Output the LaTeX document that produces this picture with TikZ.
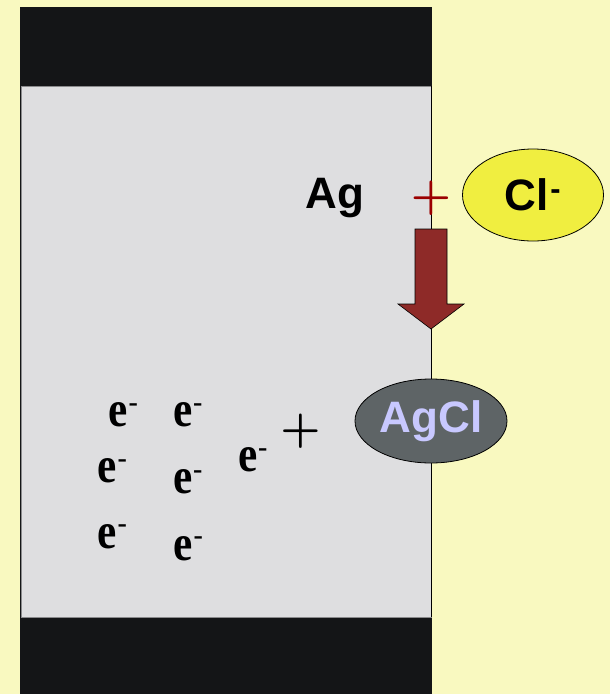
\documentclass[tikz,border=0pt]{standalone}
\usepackage{graphicx}
\usepackage{fontspec}
\setmainfont{Liberation Serif}
\setsansfont{Liberation Sans}
\usetikzlibrary{shapes.geometric}
\definecolor{bgyellow}{HTML}{F9F9C0}
\definecolor{blackband}{HTML}{141517}
\definecolor{panelgray}{HTML}{DEDEE0}
\definecolor{panelborder}{HTML}{8A8A8C}
\definecolor{plusred}{HTML}{9B0000}
\definecolor{ionyellow}{HTML}{F0EE40}
\definecolor{arrowred}{HTML}{8E2A28}
\definecolor{agclfill}{HTML}{5E6466}
\definecolor{agcltext}{HTML}{C8C8FF}
\newcommand{\elec}{\scalebox{0.85}[1]{e}\rlap{\kern0.5pt\raisebox{15.5pt}{\fontsize{28}{28}\selectfont\bfseries -}}}
\newcommand{\bigplus}{\scalebox{4.5}{\boldmath$+$}}
\tikzset{
  electron/.style={font=\fontsize{51}{51}\selectfont\bfseries\rmfamily, inner sep=0pt},
  label/.style={font=\fontsize{44}{44}\selectfont\bfseries\sffamily, inner sep=0pt},
  ion/.style={ellipse, draw=black, line width=0.8pt, inner sep=0pt},
  plussign/.style={inner sep=0pt},
}
\begin{document}
\begin{tikzpicture}[x=1pt,y=-1pt]
\useasboundingbox (0,0) rectangle (610,694);
\fill[bgyellow] (0,0) rectangle (610,694);
\fill[blackband] (20,7) rectangle (432,694);
\filldraw[fill=panelgray, draw=panelborder, line width=1pt] (21,86) rectangle (431,617);
\draw[black, line width=1pt] (431,86) -- (431,617);
% Ag
\node[label, anchor=base] (ag) at (335,208) {Ag};
% red plus
\node[plussign, text=plusred] (rplus) at (431,198.5) {\bigplus};
% Cl- ion
\node[ion, fill=ionyellow, minimum width=141pt, minimum height=92pt] (cl) at (533,195) {};
\node[label] (cltext) at (cl.center) {Cl\textsuperscript{\kern1.5pt\raisebox{2pt}{-}}};
% arrow
\fill[arrowred, draw=black, line width=0.6pt] (415,229) -- (447,229) -- (447,304) -- (464,304) -- (431,329) -- (398,304) -- (415,304) -- cycle;
% AgCl
\node[ion, fill=agclfill, minimum width=152pt, minimum height=84pt] (agcl) at (431,421) {};
\node[label, text=agcltext] (agcltext) at (agcl.center) {AgCl};
% electrons
\node[electron] (e1) at (118.5,415) {\elec};
\node[electron] (e2) at (183,415) {\elec};
\node[electron] (e3) at (107.5,471) {\elec};
\node[electron] (e4) at (183,482) {\elec};
\node[electron] (e5) at (248,460) {\elec};
\node[electron] (e6) at (107.5,536.5) {\elec};
\node[electron] (e7) at (183.5,548.5) {\elec};
% black plus
\node[plussign, text=black] (bplus) at (300.5,431) {\bigplus};
\end{tikzpicture}
\end{document}
